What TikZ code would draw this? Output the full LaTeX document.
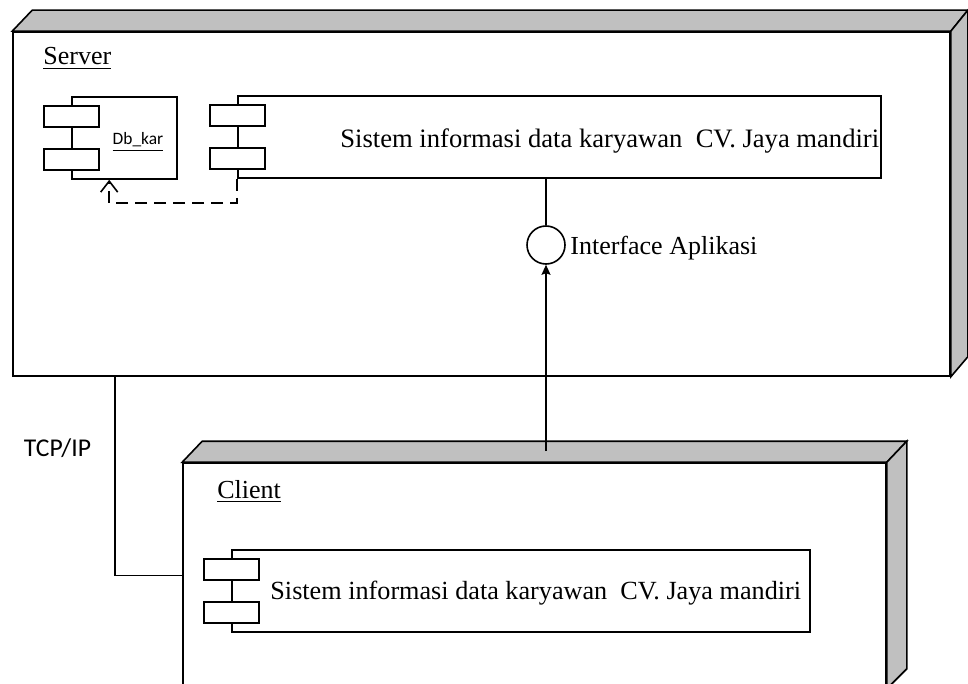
\documentclass[tikz,border=0pt]{standalone}
\usepackage{fontspec}
\setmainfont{Liberation Serif}
\newfontfamily\calib{Carlito}
\usetikzlibrary{arrows.meta}
\definecolor{rimgray}{HTML}{C0C0C0}
\tikzset{
  ln/.style={line width=0.8pt},
  face/.style={draw, line width=0.8pt, fill=white, inner sep=0pt},
  rim/.style={draw, line width=0.8pt, fill=rimgray, line join=miter},
  comp/.style={draw, line width=0.8pt, fill=white, inner sep=0pt, minimum height=41pt},
  part/.style={draw, line width=0.8pt, fill=white, inner sep=0pt,
               minimum width=27.5pt, minimum height=10.5pt},
  serif13/.style={font=\fontsize{13pt}{15pt}\selectfont, inner sep=0pt},
  dep/.style={line width=0.8pt, dash pattern=on 6pt off 3.5pt,
              -{Straight Barb[length=5.5pt,width=8.5pt]}},
  flow/.style={line width=0.8pt, -{Stealth[length=5pt,width=4.5pt,inset=0.8pt]}},
}
\begin{document}
\begin{tikzpicture}[x=0.5pt,y=-0.5pt]
  \clip (0,0) rectangle (968,684);
  \useasboundingbox (0,0) rectangle (968,684);

  % ---- Server node (3D box) ----
  \node[face, minimum width=468.5pt, minimum height=172pt] (srv) at (481.5,204) {};
  \draw[rim] (srv.north west) -- ++(20,-21) -- ([shift={(17,-21)}]srv.north east)
             -- (srv.north east) -- cycle;
  \draw[rim] (srv.north east) -- ++(17,-21) -- ([shift={(17,-20)}]srv.south east)
             -- (srv.south east) -- cycle;
  \node[serif13, anchor=base west] (srvlbl) at (43,65) {\underline{Server}};

  % ---- Client node (3D box) ----
  \node[face, minimum width=351.5pt, minimum height=112.5pt] (cli) at (534.5,575.5) {};
  \draw[rim] (cli.north west) -- ++(20,-21) -- ([shift={(20,-21)}]cli.north east)
             -- (cli.north east) -- cycle;
  \draw[rim] (cli.north east) -- ++(20,-21) -- ([shift={(20,-20)}]cli.south east)
             -- (cli.south east) -- cycle;
  \node[serif13, anchor=base west] (clilbl) at (217,498) {\underline{Client}};

  % ---- Db_kar component ----
  \node[comp, minimum width=52.5pt] (db) at (124.5,138) {};
  \node[part] (db1) at ([yshift=-10.25pt]db.north west) {};
  \node[part] (db2) at ([yshift=10.25pt]db.south west) {};
  \node[font=\calib\fontsize{8.7pt}{10pt}\selectfont, inner sep=0pt, anchor=base] (dblbl)
       at (138,145) {\underline{Db\_kar}};

  % ---- Server application component ----
  \node[comp, minimum width=321.5pt] (sc) at (559.5,137) {};
  \node[part] (sc1) at ([yshift=-10.25pt]sc.north west) {};
  \node[part] (sc2) at ([yshift=10.25pt]sc.south west) {};
  \node[serif13, font=\fontsize{13.3pt}{15pt}\selectfont, anchor=west] (sclbl)
       at (340,141) {Sistem informasi data karyawan\ \ CV. Jaya mandiri};

  % ---- Client application component ----
  \node[comp, minimum width=289pt] (cc) at (521,591) {};
  \node[part] (cc1) at ([yshift=-10.25pt]cc.north west) {};
  \node[part] (cc2) at ([yshift=10.25pt]cc.south west) {};
  \node[serif13, font=\fontsize{13.1pt}{15pt}\selectfont, anchor=west] (cclbl)
       at (270,593) {Sistem informasi data karyawan\ \ CV. Jaya mandiri};

  % ---- Interface ----
  \node[draw, line width=0.8pt, circle, minimum size=19pt, inner sep=0pt] (ifc) at (546,245) {};
  \node[serif13, anchor=west] (ifclbl) at (570,248) {Interface Aplikasi};
  \draw[ln] (ifc.north |- sc.south) -- (ifc.north);
  \coordinate (clitop) at ([yshift=5.5pt]cli.north -| ifc.south);
  \draw[flow] (clitop) -- (ifc.south);

  % ---- dependency Db_kar <- application ----
  \draw[dep] (sc.south west) -- ++(0,24) -| ([xshift=19pt]db.south west);

  % ---- TCP/IP link ----
  \draw[ln] ([xshift=51.5pt]srv.south west) |- (cli.west);
  \node[font=\calib\fontsize{12.8pt}{15pt}\selectfont, inner sep=0pt] (tcp) at (57.5,448) {TCP/IP};
\end{tikzpicture}
\end{document}
